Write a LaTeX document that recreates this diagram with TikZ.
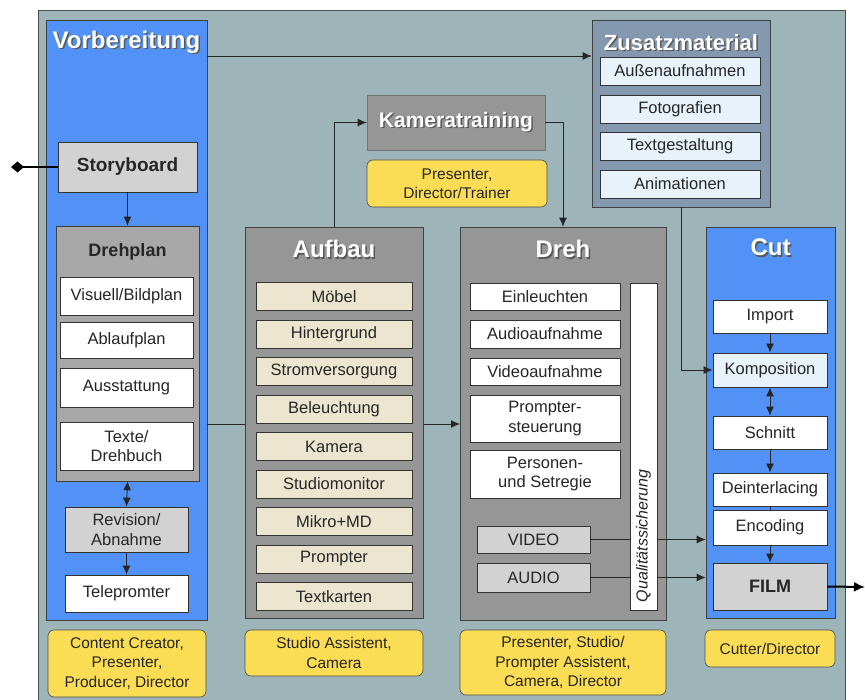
\documentclass[tikz,border=0pt]{standalone}
\usepackage{fontspec}
\setmainfont{Liberation Sans}
\usepackage{tikz}
\usetikzlibrary{positioning}
\usetikzlibrary{arrows.meta,shapes}
\usetikzlibrary{calc}

\definecolor{bggray}{RGB}{157,180,185}
\definecolor{prepblue}{RGB}{82,146,246}
\definecolor{roleyellow}{RGB}{250,220,85}
\definecolor{panelgray}{RGB}{150,150,150}
\definecolor{plangray}{RGB}{168,168,168}
\definecolor{softgray}{RGB}{210,210,210}
\definecolor{setbeige}{RGB}{236,230,208}
\definecolor{extrablue}{RGB}{132,152,175}
\definecolor{paleblue}{RGB}{232,242,250}

% white title with a dark drop shadow
\newcommand{\shtitle}[1]{\makebox[0pt][l]{\kern1.5pt\raisebox{-1.5pt}{\textcolor{black!65}{#1}}}\textcolor{white}{#1}}

\tikzset{
  sz/.style 2 args={minimum width=#1pt, minimum height=#2pt},
  panel/.style={draw=black!75, line width=0.6pt, inner sep=0pt},
  itembox/.style={draw=black!80, line width=0.8pt, fill=white, inner sep=0pt,
    align=center, text=black!85, font=\fontsize{16.5}{19.5}\selectfont},
  setbox/.style={itembox, fill=setbeige},
  role/.style={draw=black!70, line width=0.6pt, fill=roleyellow, rounded corners=6pt,
    inner sep=0pt, align=center, text=black!85, font=\fontsize{15.5}{19.5}\selectfont},
  paneltitle/.style={inner sep=0pt, font=\bfseries\fontsize{24}{28}\selectfont},
  conn/.style={draw=black!85, line width=0.9pt, -{Latex[length=9pt,width=8pt]}},
  twoway/.style={conn, {Latex[length=9pt,width=8pt]}-{Latex[length=9pt,width=8pt]}},
}

\begin{document}
\begin{tikzpicture}[x=1pt, y=-1pt]
\useasboundingbox (0,0) rectangle (865,700);

\fill[bggray] (38,10) rectangle (845,700);
\draw[black!70, line width=0.6pt] (38,700) -- (38,10) -- (845,10) -- (845,700);

%% Vorbereitung
\node[panel, fill=prepblue, sz={161}{600}] (vorb) at (126.5,320) {};
\node[paneltitle] (vorbtitle) at (126.5,43) {\shtitle{Vorbereitung}};

\coordinate (topline) at (207,56);
\coordinate (planout) at (207,424);
\coordinate (storyout) at (11,167);

\node[itembox, fill=softgray, sz={139}{50}, font=\bfseries\fontsize{19}{22}\selectfont] (story) at (127.5,167) {Storyboard};

\node[panel, fill=plangray, sz={143}{255}] (plan) at (127.5,353.5) {};
\node[inner sep=0pt, font=\bfseries\fontsize{18}{21}\selectfont, text=black!85] (plantitle) at (127.5,252) {Drehplan};
\node[itembox, sz={133}{38}] (visuell) at (126.5,296) {Visuell/Bildplan};
\node[itembox, sz={133}{36}] (ablauf) at (126.5,340) {Ablaufplan};
\node[itembox, sz={133}{39}] (ausst) at (126.5,387.5) {Ausstattung};
\node[itembox, sz={133}{48}] (texte) at (126.5,446) {Texte/\\Drehbuch};

\node[itembox, fill=softgray, sz={123}{45}] (revision) at (126.5,529.5) {Revision/\\Abnahme};
\node[itembox, sz={123}{37}] (tele) at (126.5,593.5) {Telepromter};

\node[role, sz={158}{67}] (rolevorb) at (127,663.5) {Content Creator,\\Presenter,\\Producer, Director};

\draw[black, line width=2.5pt, -{Diamond[length=13pt,width=11pt]}] (story.west) -- (storyout);
\draw[conn] (story.south) -- (plan.north);
\draw[twoway] (plan.south) -- (revision.north);
\draw[conn] (revision.south) -- (tele.north);

%% line from Drehplan to Dreh runs behind Aufbau
\draw[conn] (planout) -- (planout -| 460,0);

%% Zusatzmaterial
\node[panel, fill=extrablue, sz={178}{187}] (extra) at (681,113.5) {};
\node[paneltitle, font=\bfseries\fontsize{22}{26}\selectfont] (extratitle) at (681,43) {\shtitle{Zusatzmaterial}};
\node[itembox, fill=paleblue, sz={160}{28}] (aussen) at (680,71) {Außenaufnahmen};
\node[itembox, fill=paleblue, sz={160}{28}] (foto) at (680,109) {Fotografien};
\node[itembox, fill=paleblue, sz={160}{28}] (textgest) at (680,146.5) {Textgestaltung};
\node[itembox, fill=paleblue, sz={160}{28}] (anim) at (680,184) {Animationen};

\draw[conn] (topline) -- (topline -| extra.west);

%% Kameratraining
\node[panel, draw=black!55, fill=panelgray, sz={178}{55}, font=\bfseries\fontsize{21}{25}\selectfont] (camtrain) at (456,122.5) {\shtitle{Kameratraining}};
\node[role, sz={180}{47}] (rolecam) at (457,183.5) {Presenter,\\Director/Trainer};

%% Aufbau
\node[panel, fill=panelgray, sz={178}{391}] (setup) at (334,422.5) {};
\node[paneltitle] (setuptitle) at (334,250) {\shtitle{Aufbau}};
\foreach \name/\txt [count=\i from 0] in {moebel/Möbel, hinter/Hintergrund, strom/Stromversorgung,
    licht/Beleuchtung, kamera/Kamera, monitor/Studiomonitor, mikro/Mikro+MD,
    prompter/Prompter, karten/Textkarten}
  \node[setbox, sz={156}{28}] (\name) at (334,{296.5+37.5*\i}) {\txt};
\node[role, sz={178}{46}] (rolesetup) at (334,653) {Studio Assistent,\\Camera};

\draw[conn] (setup.north) |- (camtrain.west);

%% Dreh
\node[panel, fill=panelgray, sz={206}{393}] (shoot) at (563,423.5) {};
\node[paneltitle] (shoottitle) at (563,250) {\shtitle{Dreh}};
\node[itembox, sz={150}{27}] (einl) at (545,296.5) {Einleuchten};
\node[itembox, sz={150}{28}] (audioauf) at (545,334) {Audioaufnahme};
\node[itembox, sz={150}{27}] (videoauf) at (545,371.5) {Videoaufnahme};
\node[itembox, sz={150}{47}] (promptst) at (545,418.5) {Prompter-\\steuerung};
\node[itembox, sz={150}{48}] (regie) at (545,474) {Personen-\\und Setregie};
\node[itembox, fill=softgray, sz={113}{27}] (video) at (533.5,539.5) {VIDEO};
\node[itembox, fill=softgray, sz={113}{29}] (audio) at (533.5,577.5) {AUDIO};
\node[role, sz={206}{65}] (roleshoot) at (563,662.5) {Presenter, Studio/\\Prompter Assistent,\\Camera, Director};

\draw[conn] (camtrain.east) -| (shoot.north);

%% Cut
\node[panel, fill=prepblue, sz={129}{391}] (cut) at (770.5,422.5) {};
\node[paneltitle] (cuttitle) at (770.5,248) {\shtitle{Cut}};
\node[itembox, sz={114}{33}] (import) at (770,316.5) {Import};
\node[itembox, fill=paleblue, sz={114}{34}] (kompo) at (770,370) {Komposition};
\node[itembox, sz={114}{33}] (schnitt) at (770,432.5) {Schnitt};
\node[itembox, sz={114}{33}] (deint) at (770,489.5) {Deinterlacing};
\node[itembox, sz={114}{35}] (encode) at (770,527.5) {Encoding};
\node[itembox, fill=softgray, sz={114}{47}, font=\bfseries\fontsize{18}{21}\selectfont] (film) at (770,586.5) {FILM};
\node[role, sz={130}{37}] (rolecut) at (770,648.5) {Cutter/Director};

\coordinate (filmout) at (865,587);

\draw[conn] (extra.south) |- (kompo.west);
\draw[conn] (import.south) -- (kompo.north);
\draw[twoway] (kompo.south) -- (schnitt.north);
\draw[conn] (schnitt.south) -- (deint.north);
\draw[draw=black!85, line width=0.9pt] (deint.south) -- (encode.north);
\draw[conn] (encode.south) -- (film.north);
\draw[black, line width=2pt, -{Latex[length=11pt,width=10pt]}] (film.east) -- (filmout);

\draw[conn] (video.east) -- (video.east -| cut.west);
\draw[conn, line width=1.2pt] (audio.east) -- (audio.east -| cut.west);

% quality bar lies over the two lines
\node[itembox, rotate=90, sz={327}{27}, text width=311pt, inner xsep=8pt, align=left,
  font=\itshape\fontsize{16}{19}\selectfont] (quality) at (643.5,446.5) {Qualitätssicherung};

\end{tikzpicture}
\end{document}
